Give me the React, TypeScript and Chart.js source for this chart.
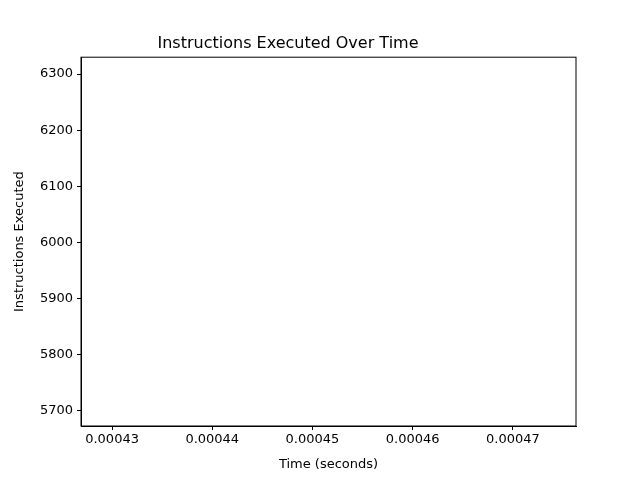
import React, { useEffect, useRef } from 'react';
import { Chart, registerables } from 'chart.js';

Chart.register(...registerables);

const timeValues = [0.0004516];
const instructionValues = [6001];
const xTicks = [0.00043, 0.00044, 0.00045, 0.00046, 0.00047];
const yTicks = [5700, 5800, 5900, 6000, 6100, 6200, 6300];

const frame = {
  id: 'frame',
  afterDraw(chart: Chart) {
    const { ctx, chartArea: a } = chart;
    ctx.save();
    ctx.strokeStyle = '#000';
    ctx.lineWidth = 1;
    ctx.strokeRect(a.left, a.top, a.right - a.left, a.bottom - a.top);
    ctx.restore();
  },
};

const App: React.FC = () => {
  const ref = useRef<HTMLCanvasElement>(null);

  useEffect(() => {
    document.body.style.margin = '0';
    const ctx = ref.current?.getContext('2d');
    if (!ctx) return;
    const font = { family: 'DejaVu Sans', size: 13 };
    const chart = new Chart(ctx, {
      type: 'line',
      data: {
        datasets: [
          {
            data: timeValues.map((x, i) => ({ x, y: instructionValues[i] })),
            borderColor: '#1f77b4',
            pointRadius: 0,
          },
        ],
      },
      options: {
        animation: false,
        responsive: false,
        layout: { padding: { left: 0, right: 64, top: 0, bottom: 0 } },
        plugins: {
          legend: { display: false },
          tooltip: { enabled: false },
          title: {
            display: true,
            text: 'Instructions Executed Over Time',
            color: '#000',
            font: { family: 'DejaVu Sans', size: 16, weight: 'normal' },
            padding: { top: 34, bottom: 4 },
          },
        },
        scales: {
          x: {
            type: 'linear',
            min: 0.0004269,
            max: 0.0004763,
            afterBuildTicks: (s: any) => { s.ticks = xTicks.map((v) => ({ value: v })); },
            afterFit: (s: any) => { s.height = 54; },
            ticks: { color: '#000', font, maxRotation: 0, padding: 2, callback: (v: any) => Number(v).toFixed(5) },
            grid: { drawOnChartArea: false, color: '#000', tickLength: 4 },
            border: { color: '#000' },
            title: { display: true, text: 'Time (seconds)', color: '#000', font, padding: { top: 0, bottom: 8 } },
          },
          y: {
            type: 'linear',
            min: 5673,
            max: 6330,
            afterBuildTicks: (s: any) => { s.ticks = yTicks.map((v) => ({ value: v })); },
            afterFit: (s: any) => { s.width = 81; },
            ticks: { color: '#000', font, padding: 4, callback: (v: any) => String(v) },
            grid: { drawOnChartArea: false, color: '#000', tickLength: 4 },
            border: { color: '#000' },
            title: { display: true, text: 'Instructions Executed', color: '#000', font, padding: { top: 12, bottom: 4 } },
          },
        },
      },
      plugins: [frame],
    });
    return () => chart.destroy();
  }, []);

  return <canvas ref={ref} width={640} height={480} style={{ display: 'block' }} />;
};

export default App;
